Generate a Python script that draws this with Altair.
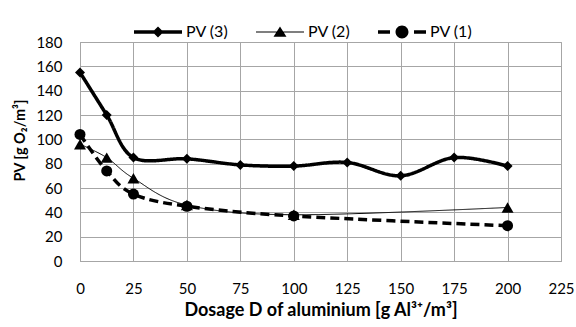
import altair as alt
import pandas as pd

# ---- data ----
series_names = ["PV (3)", "PV (2)", "PV (1)"]

x_pv3 = [0, 12.5, 25, 50, 75, 100, 125, 150, 175, 200]
y_pv3 = [155, 120, 85, 84, 79, 78, 81, 70, 85, 78]

x_pv2 = [0, 12.5, 25, 50, 100, 200]
y_pv2 = [96, 85, 68, 46, 38, 44]

x_pv1 = [0, 12.5, 25, 50, 100, 200]
y_pv1 = [104, 74, 55, 45, 37, 29]

x_ticks = [0, 25, 50, 75, 100, 125, 150, 175, 200, 225]
y_ticks = [0, 20, 40, 60, 80, 100, 120, 140, 160, 180]

rows = []
for name, xs, ys in [("PV (3)", x_pv3, y_pv3), ("PV (2)", x_pv2, y_pv2), ("PV (1)", x_pv1, y_pv1)]:
    for a, b in zip(xs, ys):
        rows.append({"series": name, "D": a, "PV": b})
df = pd.DataFrame(rows)

FONT = "Lato"
GRID = "#a6a6a6"

xs = alt.X("D:Q", scale=alt.Scale(domain=[0, 225], nice=False),
           axis=alt.Axis(values=x_ticks, title="Dosage D of aluminium [g Al³⁺/m³]",
                         ticks=False, labelPadding=20, titlePadding=5,
                         labelFlush=False, titleFontSize=18))
ys = alt.Y("PV:Q", scale=alt.Scale(domain=[0, 180], nice=False),
           axis=alt.Axis(values=y_ticks, title="PV [g O₂/m³]", ticks=False,
                         labelPadding=18, titlePadding=8, titleY=98,
                         titleFontSize=14.5))

# legend symbols: line + marker, all drawn as filled shapes (unit = half symbol width)
shape_expr = (
    "datum.value == 'PV (3)' ? 'M-1,-0.07H1V0.07H-1Z M0,-0.23L0.23,0L0,0.23L-0.23,0Z' : "
    "datum.value == 'PV (2)' ? 'M-1,-0.022H1V0.022H-1Z M0,-0.23L0.27,0.2H-0.27Z' : "
    "'M-1,-0.07H-0.5V0.07H-1Z M0.5,-0.07H1V0.07H0.5Z "
    "M0.27,0A0.27,0.27 0 1,1 -0.27,0A0.27,0.27 0 1,1 0.27,0Z'"
)

color = alt.Color(
    "series:N",
    scale=alt.Scale(domain=series_names, range=["black", "black", "black"]),
    legend=alt.Legend(
        title=None, orient="none", direction="horizontal",
        legendX=54, legendY=-34, symbolSize=2304, labelOffset=4,
        columnPadding=27, labelFontSize=16, labelFont=FONT, labelColor="black",
        symbolType={"expr": shape_expr},
        symbolStrokeWidth=0,
        symbolFillColor="black", symbolStrokeColor="black",
        symbolOpacity=1,
    ),
)

base = alt.Chart(df)

styles = {
    "PV (3)": dict(width=3.5, dash=[1, 0], shape="diamond", size=100),
    "PV (2)": dict(width=1, dash=[1, 0], shape="triangle-up", size=144),
    "PV (1)": dict(width=3.5, dash=[9, 5], shape="circle", size=121),
}

layers = []
for name in series_names:
    st = styles[name]
    sub = base.transform_filter(alt.datum.series == name)
    line = sub.mark_line(interpolate="cardinal", strokeWidth=st["width"],
                         strokeDash=st["dash"]).encode(x=xs, y=ys, color=color)
    pts = sub.mark_point(filled=True, shape=st["shape"], size=st["size"],
                         color="black", opacity=1).encode(x=xs, y=ys)
    layers += [line, pts]

chart = alt.layer(*layers).properties(
    width=481, height=219,
    autosize=alt.AutoSizeParams(type="none"),
    padding={"left": 80, "top": 42, "right": 15, "bottom": 66},
).configure_view(stroke=GRID).configure_axis(
    gridColor=GRID, domainColor=GRID, labelFont=FONT, titleFont=FONT,
    labelFontSize=15, labelColor="black", titleColor="black",
    titleFontWeight="bold",
)

chart.save("out.html", embed_options={"renderer": "svg", "actions": False})
